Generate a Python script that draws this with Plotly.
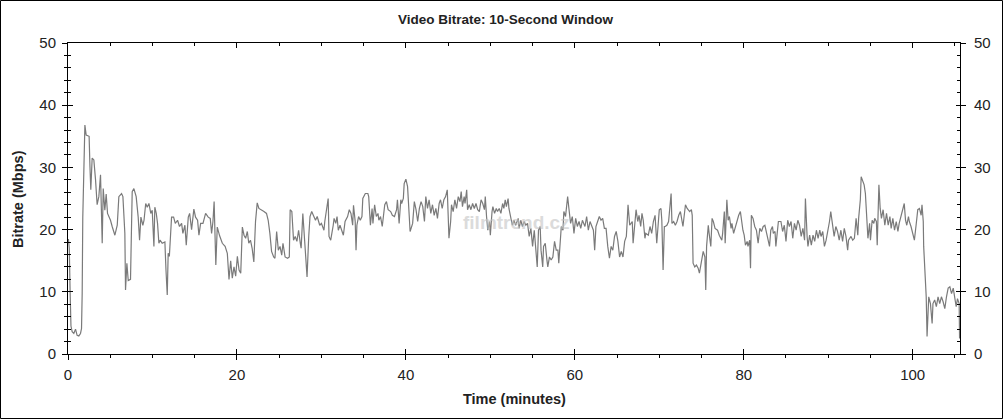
import plotly.graph_objects as go

# ---- data ----
time_min = [
    0.05, 0.15, 0.25, 0.35, 0.49, 0.69, 0.89, 1.08, 1.28, 1.48, 1.6, 1.68, 1.75, 1.88, 2.0, 2.15, 2.5, 2.6, 2.7, 2.86,
    3.06, 3.26, 3.45, 3.65, 3.85, 4.05, 4.17, 4.36, 4.52, 4.68, 5.03, 5.23, 5.55, 5.83, 6.02, 6.34, 6.5, 6.73, 6.81, 6.97,
    7.13, 7.4, 7.6, 7.8, 8.07, 8.31, 8.47, 8.63, 8.86, 9.0, 9.2, 9.38, 9.58, 9.8, 9.97, 10.17, 10.28, 10.45, 10.6, 10.76,
    10.9, 11.15, 11.47, 11.6, 11.75, 11.86, 12.0, 12.26, 12.5, 12.7, 12.97, 13.2, 13.45, 13.6, 13.84, 14.0, 14.24, 14.4, 14.63, 14.9,
    15.1, 15.34, 15.5, 15.7, 15.98, 16.29, 16.6, 16.84, 17.0, 17.16, 17.3, 17.5, 17.67, 17.95, 18.27, 18.6, 18.86, 19.06, 19.26, 19.45,
    19.65, 19.85, 20.05, 20.25, 20.45, 20.64, 20.84,
    21.03, 21.23, 21.4, 21.6, 21.8, 22.0, 22.2, 22.4, 22.6, 22.9, 23.2, 23.5, 23.7, 23.9, 24.1, 24.35, 24.5, 24.7, 24.9, 25.1,
    25.3, 25.45, 25.7, 26.0, 26.2, 26.3, 26.5, 26.7, 26.9, 27.1, 27.3, 27.5, 27.6, 27.8, 28.0, 28.1, 28.3, 28.5, 28.65, 28.85,
    29.1, 29.3, 29.5, 29.8, 30.0, 30.3, 30.4, 30.6, 30.8, 30.9, 31.1, 31.4, 31.5, 31.7, 31.85, 32.0, 32.2, 32.4, 32.6, 32.8,
    33.1, 33.3, 33.5, 33.7, 33.8, 34.0, 34.1, 34.2, 34.4, 34.6, 34.8, 34.9, 35.2, 35.5, 35.6, 35.8, 36.0, 36.1, 36.3, 36.5,
    36.7, 36.8, 37.0, 37.2, 37.4, 37.5, 37.7, 37.9, 38.2, 38.4, 38.65, 38.9, 39.0, 39.2, 39.4, 39.5, 39.7, 39.8, 40.0, 40.2,
    40.4, 40.5, 40.8, 41.0, 41.2, 41.4, 41.6, 41.8, 42.0, 42.2,
    42.36, 42.56, 42.75, 42.95, 43.15, 43.35, 43.55, 43.74, 43.94, 44.1, 44.3, 44.5, 44.7, 44.9, 45.0, 45.1, 45.3, 45.4, 45.6, 45.8,
    46.0, 46.2, 46.4, 46.55, 46.7, 46.9, 47.0, 47.2, 47.3, 47.5, 47.7, 47.9, 48.1, 48.3, 48.5, 48.7, 48.9, 49.1, 49.3, 49.4,
    49.55, 49.7, 49.9, 50.0, 50.2, 50.3, 50.5, 50.7, 50.85, 51.05, 51.25, 51.45, 51.6, 51.76, 51.9, 52.1, 52.2, 52.4, 52.6, 52.8,
    53.0, 53.3, 53.4, 53.6, 53.8, 54.0, 54.2, 54.4, 54.6, 54.8, 55.0, 55.2, 55.4, 55.55, 55.7, 55.9, 56.0, 56.2, 56.3, 56.5,
    56.7, 56.8, 57.0, 57.2, 57.4, 57.6, 57.8, 58.0, 58.1, 58.25, 58.4, 58.6, 58.7, 58.9, 59.0, 59.15, 59.3, 59.5, 59.7, 59.9,
    60.1, 60.3, 60.5, 60.7, 60.9, 61.2, 61.4, 61.6, 61.8, 62.0, 62.2, 62.35, 62.5, 62.7, 62.9, 63.1, 63.3, 63.5,
    63.7, 63.9, 64.1, 64.3, 64.5, 64.7, 64.9, 65.1, 65.3, 65.5, 65.7, 65.9, 66.1, 66.2, 66.3, 66.5, 66.8, 66.9, 67.1, 67.25,
    67.45, 67.6, 67.8, 67.95, 68.1, 68.3, 68.4, 68.7, 68.9, 69.1, 69.3, 69.5, 69.7, 69.85, 70.0, 70.2, 70.3, 70.45, 70.6, 70.7,
    70.9, 71.1, 71.3, 71.4, 71.5, 71.7, 71.9, 72.1, 72.3, 72.5, 72.8, 72.9, 73.1, 73.3, 73.6, 73.8, 73.9, 74.0, 74.2, 74.4,
    74.6, 74.75, 74.9, 75.1, 75.2, 75.4, 75.5, 75.6, 75.8, 75.9, 76.1, 76.25, 76.4, 76.6, 76.9, 77.1, 77.4, 77.5, 77.7, 77.8,
    78.0, 78.15, 78.3, 78.5, 78.6, 78.8, 79.0, 79.2, 79.4, 79.6, 79.7, 79.9, 80.05, 80.2, 80.4, 80.5, 80.7, 80.8, 80.9, 81.1,
    81.3, 81.5, 81.7, 81.9, 82.1, 82.3, 82.5, 82.7, 82.9, 83.05, 83.2, 83.4, 83.5, 83.7, 83.8, 84.0, 84.1, 84.4, 84.6, 84.8,
    85.0, 85.2, 85.4, 85.6, 85.8, 86.0, 86.2, 86.4, 86.6, 86.8, 87.0, 87.2, 87.3, 87.5, 87.6, 87.8, 88.0, 88.2, 88.4, 88.6,
    88.8, 89.0, 89.15, 89.35, 89.55, 89.75, 89.95, 90.15, 90.3, 90.5, 90.7, 90.9, 91.1, 91.3, 91.5, 91.7, 91.9, 92.1, 92.3, 92.4,
    92.7, 92.9, 93.1, 93.3, 93.5, 93.6, 93.8, 93.9, 94.1, 94.25, 94.4, 94.6, 94.7, 94.9, 95.0, 95.2, 95.4, 95.5, 95.7, 95.8,
    96.0, 96.15, 96.3, 96.5, 96.7, 96.9, 97.1, 97.3, 97.45, 97.65, 97.85, 98.05, 98.25, 98.4, 98.6, 98.8, 99.0, 99.15, 99.3, 99.5,
    99.6, 99.8, 100.0, 100.2, 100.4, 100.6, 100.8, 101.0, 101.1, 101.25, 101.3, 101.4, 101.5, 101.6, 101.7, 101.8, 101.9, 102.1, 102.2, 102.3,
    102.4, 102.6, 102.8, 103.0, 103.2, 103.4, 103.6, 103.8, 104.0, 104.2, 104.4, 104.6, 104.8, 104.95, 105.15, 105.3, 105.5, 105.55,
]

bitrate_mbps = [
    18.5, 17.0, 10.0, 4.5, 3.6, 3.3, 4.0, 3.0, 2.9, 3.3, 4.1, 9.8, 22.0, 31.2, 36.8, 35.2, 35.0, 30.1, 26.4, 31.5,
    31.2, 28.0, 24.0, 25.3, 28.8, 17.8, 26.6, 23.1, 25.7, 22.6, 21.5, 20.5, 19.1, 20.7, 25.3, 25.8, 25.3, 19.4, 10.3, 14.6,
    11.8, 12.0, 26.1, 26.6, 25.3, 22.0, 18.3, 22.0, 20.7, 21.5, 24.2, 23.6, 24.2, 22.6, 23.1, 17.3, 23.6, 22.6, 21.0, 17.8,
    18.3, 17.8, 18.0, 13.5, 9.5, 16.2, 15.7, 22.0, 22.0, 21.0, 21.5, 20.5, 21.0, 19.4, 20.7, 17.5, 22.0, 22.6, 20.0, 23.3,
    22.0, 21.5, 19.1, 21.0, 21.0, 22.6, 22.0, 21.8, 19.4, 21.3, 24.5, 14.3, 20.4, 19.0, 17.8, 17.3, 16.2, 12.0, 15.0, 12.2,
    14.0, 12.5, 15.7, 13.5, 13.0, 20.4, 19.1,
    18.6, 19.7, 17.8, 18.3, 17.0, 14.8, 21.3, 24.3, 23.4, 23.2, 22.9, 22.6, 21.5, 19.4, 16.5, 15.6, 15.4, 19.7, 16.7, 17.3,
    15.9, 17.8, 15.6, 15.4, 15.6, 23.2, 22.9, 18.3, 18.9, 18.1, 19.9, 17.8, 17.0, 22.6, 18.3, 16.7, 12.4, 18.9, 22.1, 22.9,
    22.1, 21.5, 22.1, 20.7, 21.0, 19.9, 21.3, 22.9, 25.0, 18.9, 18.3, 20.7, 21.8, 21.0, 22.1, 19.9, 20.7, 19.9, 19.1, 21.3,
    22.1, 23.2, 22.6, 20.7, 23.9, 21.3, 16.7, 20.7, 22.1, 21.5, 22.1, 25.0, 25.8, 25.8, 25.3, 20.7, 23.4, 21.0, 24.0, 22.1,
    22.6, 21.5, 22.1, 20.5, 22.6, 24.0, 24.5, 23.2, 22.9, 22.3, 22.1, 23.2, 24.8, 21.0, 24.8, 24.2, 25.0, 27.4, 28.1, 26.9,
    22.1, 19.7, 21.0, 24.5, 23.2, 21.3, 23.4, 24.5, 23.7, 21.3,
    25.3, 23.4, 24.8, 22.6, 24.0, 22.3, 23.4, 21.8, 24.2, 24.8, 23.4, 24.8, 25.3, 26.4, 22.6, 18.6, 21.3, 24.0, 22.9, 24.8,
    23.4, 25.3, 24.5, 26.1, 23.7, 25.3, 24.2, 26.4, 23.2, 24.0, 23.2, 24.2, 23.4, 24.2, 23.2, 22.9, 24.8, 24.2, 23.2, 25.3,
    22.1, 19.9, 21.3, 19.1, 22.9, 23.7, 22.6, 23.4, 22.9, 23.4, 22.6, 24.2, 23.4, 24.8, 23.7, 25.0, 23.4, 22.1, 20.7, 21.5,
    20.7, 21.8, 20.2, 21.5, 20.5, 21.3, 20.7, 21.0, 18.9, 20.2, 17.3, 19.9, 16.7, 14.0, 19.9, 20.5, 16.7, 14.0, 17.3, 17.8,
    15.1, 14.0, 15.6, 15.1, 15.6, 18.1, 16.7, 16.7, 14.6, 18.6, 20.5, 19.9, 22.9, 22.1, 23.4, 25.3, 23.4, 21.0, 22.1, 19.4,
    21.8, 20.5, 21.3, 20.2, 21.5, 20.5, 22.1, 19.9, 21.3, 20.7, 19.9, 16.7, 20.5, 21.3, 22.1, 21.5, 21.8, 20.2,
    20.2, 17.3, 15.4, 17.3, 16.7, 18.9, 19.7, 18.1, 15.6, 16.5, 15.6, 18.1, 18.9, 21.3, 24.0, 20.7, 21.3, 17.8, 21.5, 23.2,
    21.3, 22.3, 20.5, 22.6, 21.5, 18.6, 19.4, 19.1, 20.5, 19.4, 21.3, 22.3, 17.8, 20.7, 23.2, 23.4, 21.5, 13.5, 20.5, 20.5,
    20.7, 21.3, 24.2, 25.8, 21.0, 21.3, 20.7, 21.3, 22.3, 22.9, 20.5, 22.1, 24.0, 23.4, 22.9, 23.2, 22.3, 14.6, 14.0, 14.3,
    13.8, 13.0, 14.3, 15.6, 16.5, 15.6, 10.3, 17.3, 20.7, 19.4, 17.3, 21.8, 21.3, 20.2, 19.9, 19.1, 18.3, 19.4, 22.9, 17.8,
    24.8, 21.5, 22.1, 20.2, 21.0, 19.4, 20.5, 21.3, 22.3, 22.9, 21.5, 19.9, 19.1, 17.5, 18.1, 17.3, 18.3, 13.8, 22.3, 21.8,
    20.5, 19.9, 17.8, 20.2, 19.7, 20.5, 20.7, 19.4, 18.3, 17.3, 19.9, 20.5, 19.4, 19.7, 17.3, 20.5, 21.3, 21.3, 19.7, 20.7,
    18.1, 21.5, 20.5, 21.3, 18.6, 21.0, 19.9, 21.5, 20.7, 18.9, 20.2, 18.3, 25.0, 18.9, 17.3, 19.1, 17.5, 19.1, 18.1, 19.9,
    18.6, 19.9, 18.9, 19.7, 17.3, 18.3, 19.7, 21.3, 22.9, 20.5, 18.9, 20.5, 19.7, 18.3, 19.9, 18.1, 20.2, 18.9, 16.7, 18.3,
    18.9, 18.3, 18.6, 21.8, 19.1, 21.8, 24.8, 28.5, 27.7, 27.2, 25.8, 22.1, 18.6, 21.0, 18.3, 21.5, 21.0, 21.8, 21.3, 17.5,
    27.2, 23.4, 21.8, 23.2, 20.7, 22.6, 20.7, 22.1, 20.2, 21.8, 19.9, 21.3, 19.7, 21.0, 22.1, 23.4, 24.2, 21.5, 20.7, 22.1,
    21.3, 20.5, 19.1, 18.3, 20.7, 23.2, 23.4, 22.3, 24.0, 21.3, 17.3, 14.6, 12.2, 9.2, 2.8, 7.6, 9.2, 8.1, 5.5, 4.9,
    8.1, 8.7, 7.6, 9.2, 8.1, 9.2, 8.4, 7.3, 9.2, 10.6, 10.8, 9.7, 10.6, 8.9, 7.6, 8.9, 8.1, 2.5,
]

y_ticks = [0, 10, 20, 30, 40, 50]
x_ticks = [0, 20, 40, 60, 80, 100]

FONT = "Liberation Sans, Arial, sans-serif"
W, H = 1004, 420
ML, MR, MT, MB = 68, 44, 43, 66
PW, PH = W - ML - MR, H - MT - MB


def px(xp):
    return (xp - ML) / PW


def py(yp):
    return (H - MB - yp) / PH


X_RANGE = [0, 105.6]
Y_RANGE = [0, 50]

fig = go.Figure()
fig.add_trace(go.Scatter(
    x=time_min, y=bitrate_mbps, mode="lines",
    line=dict(color="#7a7a7a", width=1.2),
    showlegend=False, hoverinfo="skip", xaxis="x", yaxis="y",
))
# empty helper traces so that the extra tick axes are drawn
for xa, ya in [("x2", "y3"), ("x3", "y2"), ("x", "y4")]:
    fig.add_trace(go.Scatter(x=[None], y=[None], mode="lines", showlegend=False,
                             hoverinfo="skip", xaxis=xa, yaxis=ya))

common = dict(showgrid=False, zeroline=False, linecolor="#000", linewidth=1,
              tickcolor="#000", tickwidth=1, showline=True)
tickfont = dict(family=FONT, size=15, color="#222")

fig.update_layout(
    width=W, height=H,
    margin=dict(l=ML, r=MR, t=MT, b=MB, autoexpand=False),
    paper_bgcolor="white", plot_bgcolor="white",
    font=dict(family=FONT, color="#222"),
    xaxis=dict(range=X_RANGE, tickvals=x_ticks, ticks="outside", ticklen=5,
               minor=dict(dtick=5, ticks="outside", ticklen=3, tickcolor="#000"),
               tickfont=tickfont, side="bottom", ticklabelstandoff=2, **common),
    xaxis2=dict(range=X_RANGE, tickvals=x_ticks, ticks="inside", ticklen=5,
                showticklabels=False, overlaying="x", side="bottom", **common),
    xaxis3=dict(range=X_RANGE, tickvals=x_ticks, ticks="inside", ticklen=5,
                minor=dict(dtick=5, ticks="inside", ticklen=3, tickcolor="#000"),
                showticklabels=False, overlaying="x", side="top", **common),
    yaxis=dict(range=Y_RANGE, tickvals=y_ticks, ticks="outside", ticklen=5,
               minor=dict(dtick=2, ticks="outside", ticklen=3, tickcolor="#000"),
               tickfont=tickfont, side="left", ticklabelstandoff=3, **common),
    yaxis3=dict(range=Y_RANGE, tickvals=y_ticks, ticks="inside", ticklen=5,
                minor=dict(dtick=2, ticks="inside", ticklen=3, tickcolor="#000"),
                showticklabels=False, overlaying="y", side="left", **common),
    yaxis2=dict(range=Y_RANGE, tickvals=y_ticks, ticks="inside", ticklen=4,
                minor=dict(dtick=2, ticks="inside", ticklen=3, tickcolor="#000"),
                tickfont=tickfont, overlaying="y", side="right", ticklabelstandoff=10, **common),
    yaxis4=dict(range=Y_RANGE, tickvals=y_ticks, ticks="outside", ticklen=5,
                showticklabels=False, overlaying="y", side="right", **common),
    annotations=[
        dict(text="<b>Video Bitrate: 10-Second Window</b>", xref="paper", yref="paper",
             x=px(505), y=py(19), xanchor="center", yanchor="middle", showarrow=False,
             font=dict(family=FONT, size=13.5, color="#222")),
        dict(text="<b>Time (minutes)</b>", xref="paper", yref="paper",
             x=px(514), y=py(399), xanchor="center", yanchor="middle", showarrow=False,
             font=dict(family=FONT, size=14.5, color="#222")),
        dict(text="<b>Bitrate (Mbps)</b>", xref="paper", yref="paper", textangle=-90,
             x=px(18), y=py(199), xanchor="center", yanchor="middle", showarrow=False,
             font=dict(family=FONT, size=14.5, color="#222")),
        dict(text="<b>filmtrend.cz</b>", xref="paper", yref="paper",
             x=px(516), y=py(222), xanchor="center", yanchor="middle", showarrow=False,
             opacity=0.6, font=dict(family=FONT, size=19, color="#c4c4c4")),
    ],
    shapes=[
        dict(type="rect", xref="paper", yref="paper", layer="above",
             x0=px(0.5), x1=px(1002.5), y0=py(418.5), y1=py(0.5),
             line=dict(color="#000", width=1)),
    ],
)

fig.write_html(
    "out.html",
    config={"displayModeBar": False},
    post_script="document.body.style.margin='0';document.body.style.overflow='hidden';",
)
